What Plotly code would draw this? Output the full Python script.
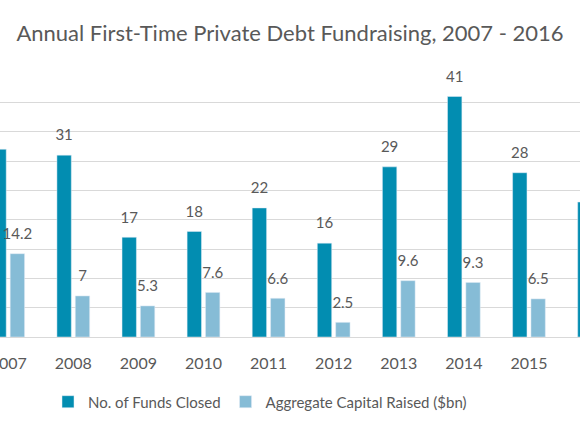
import plotly.graph_objects as go

# Data
years = ["2007", "2008", "2009", "2010", "2011", "2012", "2013", "2014", "2015", "2016"]
funds_closed = [32, 31, 17, 18, 22, 16, 29, 41, 28, 23]
capital_raised = [14.2, 7, 5.3, 7.6, 6.6, 2.5, 9.6, 9.3, 6.5, 6.0]

dark = "#028db1"
light = "#86bcd6"
grey = "#595959"
font = "Lato"

fig = go.Figure()

fig.add_trace(go.Bar(x=years, y=funds_closed, name="No. of Funds Closed",
                     marker_color=dark, offsetgroup="a", hoverinfo="skip"))
fig.add_trace(go.Bar(x=years, y=capital_raised, name="Aggregate Capital Raised ($bn)",
                     marker_color=light, offsetgroup="b", hoverinfo="skip"))

# value labels sit a little above each bar
for vals, grp in [(funds_closed, "a"), (capital_raised, "b")]:
    fig.add_trace(go.Scatter(x=years, y=vals, mode="markers+text",
                             text=[f"{v:g}" for v in vals], textposition="top center",
                             textfont=dict(family=font, size=15, color=grey),
                             marker=dict(size=16, opacity=0), offsetgroup=grp,
                             cliponaxis=False, showlegend=False, hoverinfo="skip"))

fig.update_layout(
    width=580, height=435,
    margin=dict(l=0, r=0, t=73, b=98),
    paper_bgcolor="white", plot_bgcolor="white",
    barmode="group", bargap=0.436, bargroupgap=0.216,
    scattermode="group", scattergap=0.436,
    title=dict(text="Annual First-Time Private Debt Fundraising, 2007 - 2016",
               x=0.5, xanchor="center", y=0.924, yanchor="middle",
               font=dict(family=font, size=22, color=grey)),
    legend=dict(orientation="h", x=48 / 580, xanchor="left", y=-0.246, yanchor="middle",
                font=dict(family=font, size=15, color=grey)),
    font=dict(family=font, color=grey),
)
fig.update_xaxes(type="category", range=[-0.126, 8.784], showgrid=False,
                 showline=True, linecolor="#d9d9d9", ticks="", automargin=False,
                 ticklabelstandoff=12,
                 tickfont=dict(family=font, size=16, color=grey))
fig.update_yaxes(range=[0, 45], dtick=5, showgrid=True, gridcolor="#d9d9d9",
                 showticklabels=False, zeroline=False, automargin=False)

# drop the browser's default page margin so the chart sits at the window corner
fig.write_html("out.html", config={"displayModeBar": False},
               post_script="document.body.style.margin='0';")
